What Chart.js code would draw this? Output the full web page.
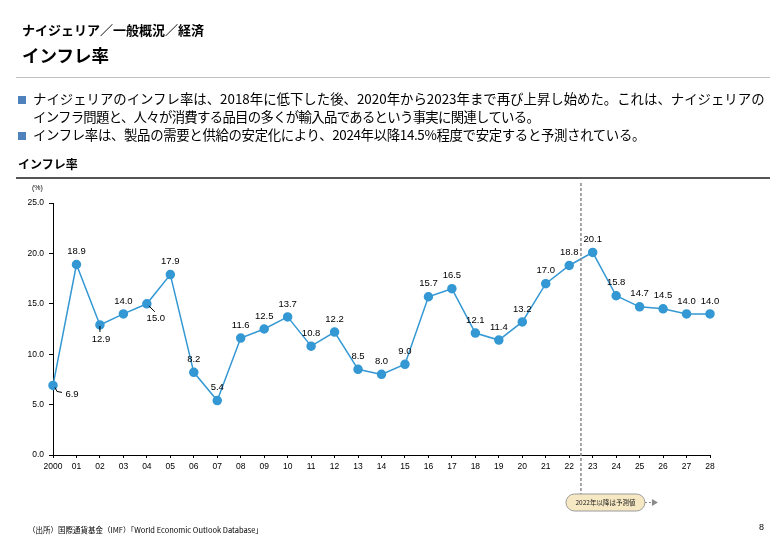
<!DOCTYPE html>
<html><head><meta charset="utf-8">
<script src="https://cdn.jsdelivr.net/npm/chart.js@4"></script>
<style>
html,body{margin:0;padding:0;background:#fff;}
body{width:780px;height:540px;position:relative;overflow:hidden;font-family:"Noto Sans CJK JP","Noto Sans",sans-serif;color:#000;}
#c{position:absolute;left:0;top:0;width:780px;height:540px;}
.t{position:absolute;white-space:nowrap;line-height:1;}
.sq{position:absolute;width:8px;height:8px;background:#4f81bd;}
</style></head><body>
<canvas id="c" width="780" height="540"></canvas>
<div class="t" style="left:22px;top:23px;font-size:13px;font-weight:bold;">ナイジェリア／一般概況／経済</div>
<div class="t" style="left:22px;top:46px;font-size:17.5px;font-weight:bold;">インフレ率</div>
<div style="position:absolute;left:16px;top:77px;width:754px;height:1px;background:#c0c0c0;"></div>
<div class="sq" style="left:18px;top:96px;"></div>
<div class="t" style="left:33px;top:92px;font-size:13.4px;letter-spacing:0px;">ナイジェリアのインフレ率は、2018年に低下した後、2020年から2023年まで再び上昇し始めた。これは、ナイジェリアの</div>
<div class="t" style="left:33px;top:110px;font-size:13.4px;letter-spacing:-0.7px;">インフラ問題と、人々が消費する品目の多くが輸入品であるという事実に関連している。</div>
<div class="sq" style="left:18px;top:132px;"></div>
<div class="t" style="left:33px;top:128px;font-size:13.4px;letter-spacing:-0.33px;">インフレ率は、製品の需要と供給の安定化により、2024年以降14.5%程度で安定すると予測されている。</div>
<div class="t" style="left:18px;top:158px;font-size:12px;font-weight:bold;">インフレ率</div>
<div style="position:absolute;left:16px;top:177px;width:754px;height:2px;background:#555;"></div>
<div class="t" style="left:32px;top:184px;font-size:7px;font-family:'Liberation Sans',sans-serif;">(%)</div>
<div class="t" style="left:28px;top:526px;font-size:7.5px;">（出所）国際通貨基金（IMF）「World Economic Outlook Database」</div>
<div class="t" style="left:759px;top:523px;font-size:9px;font-family:'Liberation Sans',sans-serif;">8</div>
<script>
const years = ['2000','01','02','03','04','05','06','07','08','09','10','11','12','13','14','15','16','17','18','19','20','21','22','23','24','25','26','27','28'];
const inflation = [6.9,18.9,12.9,14.0,15.0,17.9,8.2,5.4,11.6,12.5,13.7,10.8,12.2,8.5,8.0,9.0,15.7,16.5,12.1,11.4,13.2,17.0,18.8,20.1,15.8,14.7,14.5,14.0,14.0];
const yTicks = [0,5,10,15,20,25];
const forecastNote = '2022年以降は予測値';
const forecastAfterIndex = 22;

const lineColor = '#3398d3';
const labelFont = '9.5px "Liberation Sans", sans-serif';

const labelPlugin = {
  id: 'labels',
  afterDatasetsDraw(chart) {
    const ctx = chart.ctx;
    const meta = chart.getDatasetMeta(0);
    ctx.save();
    ctx.font = labelFont;
    ctx.fillStyle = '#000';
    ctx.textAlign = 'center';
    ctx.textBaseline = 'middle';
    ctx.strokeStyle = '#000';
    ctx.lineWidth = 1;
    meta.data.forEach((pt, i) => {
      const x = pt.x, y = pt.y;
      const txt = inflation[i].toFixed(1);
      if (i === 0) {
        ctx.beginPath(); ctx.moveTo(x + 2, y + 2); ctx.lineTo(x + 4, y + 6); ctx.lineTo(x + 9, y + 7); ctx.stroke();
        ctx.fillText(txt, x + 19, y + 9);
      } else if (i === 2) {
        ctx.beginPath(); ctx.moveTo(x, y + 1); ctx.lineTo(x, y + 7); ctx.stroke();
        ctx.fillText(txt, x + 1, y + 14);
      } else if (i === 4) {
        ctx.beginPath(); ctx.moveTo(x + 2, y + 2); ctx.lineTo(x + 8, y + 8); ctx.stroke();
        ctx.fillText(txt, x + 9, y + 15);
      } else {
        ctx.fillText(txt, x, y - 13);
      }
    });
    ctx.restore();
  }
};

const forecastPlugin = {
  id: 'forecast',
  afterDraw(chart) {
    const ctx = chart.ctx;
    const xs = chart.scales.x;
    const x = (xs.getPixelForValue(forecastAfterIndex) + xs.getPixelForValue(forecastAfterIndex + 1)) / 2;
    ctx.save();
    ctx.strokeStyle = '#8a8a8a';
    ctx.lineWidth = 1.5;
    ctx.setLineDash([3, 2]);
    ctx.beginPath(); ctx.moveTo(x, 183); ctx.lineTo(x, 494); ctx.stroke();
    const left = x - 15, right = x + 64, top = 494, bot = 511, r = 8.5;
    ctx.setLineDash([]);
    ctx.beginPath();
    ctx.moveTo(left + r, top); ctx.lineTo(right - r, top);
    ctx.arc(right - r, top + r, r, -Math.PI / 2, Math.PI / 2);
    ctx.lineTo(left + r, bot);
    ctx.arc(left + r, top + r, r, Math.PI / 2, Math.PI * 1.5);
    ctx.closePath();
    ctx.fillStyle = '#f6e8c3';
    ctx.fill();
    ctx.strokeStyle = '#9a9a9a';
    ctx.lineWidth = 1;
    ctx.stroke();
    ctx.fillStyle = '#222';
    ctx.font = '6.5px "Noto Sans CJK JP", sans-serif';
    ctx.textAlign = 'center';
    ctx.textBaseline = 'middle';
    ctx.fillText(forecastNote, (left + right) / 2, (top + bot) / 2 + 0.5);
    ctx.strokeStyle = '#8a8a8a';
    ctx.setLineDash([2, 2]);
    ctx.beginPath(); ctx.moveTo(right, 502.5); ctx.lineTo(right + 7, 502.5); ctx.stroke();
    ctx.setLineDash([]);
    ctx.fillStyle = '#8a8a8a';
    ctx.beginPath(); ctx.moveTo(right + 7, 499); ctx.lineTo(right + 13, 502.5); ctx.lineTo(right + 7, 506); ctx.closePath(); ctx.fill();
    ctx.restore();
  }
};

new Chart(document.getElementById('c'), {
  type: 'line',
  data: {
    labels: years,
    datasets: [{
      data: inflation,
      borderColor: lineColor,
      backgroundColor: lineColor,
      pointBackgroundColor: lineColor,
      pointBorderColor: lineColor,
      pointRadius: 4,
      borderWidth: 1.5,
      tension: 0
    }]
  },
  options: {
    responsive: false,
    animation: false,
    devicePixelRatio: 1,
    layout: { padding: { left: 0, top: 203, right: 70, bottom: 65 } },
    plugins: { legend: { display: false }, tooltip: { enabled: false } },
    scales: {
      x: {
        offset: false,
        grid: { display: true, drawOnChartArea: false, drawTicks: true, tickLength: 3, color: '#000' },
        border: { display: true, color: '#000', width: 1 },
        ticks: { color: '#000', font: { family: 'Liberation Sans', size: 8.5 }, padding: 4, maxRotation: 0, autoSkip: false },
        afterFit(s) { s.height = 20; }
      },
      y: {
        min: 0, max: 25,
        afterBuildTicks(s) { s.ticks = yTicks.map(v => ({ value: v })); },
        grid: { display: true, drawOnChartArea: false, drawTicks: true, tickLength: 4, color: '#000' },
        border: { display: true, color: '#000', width: 1 },
        ticks: { color: '#000', font: { family: 'Liberation Sans', size: 8.5 }, padding: 5, callback: v => Number(v).toFixed(1) },
        afterFit(s) { s.width = 53; }
      }
    }
  },
  plugins: [labelPlugin, forecastPlugin]
});
</script>
</body></html>
